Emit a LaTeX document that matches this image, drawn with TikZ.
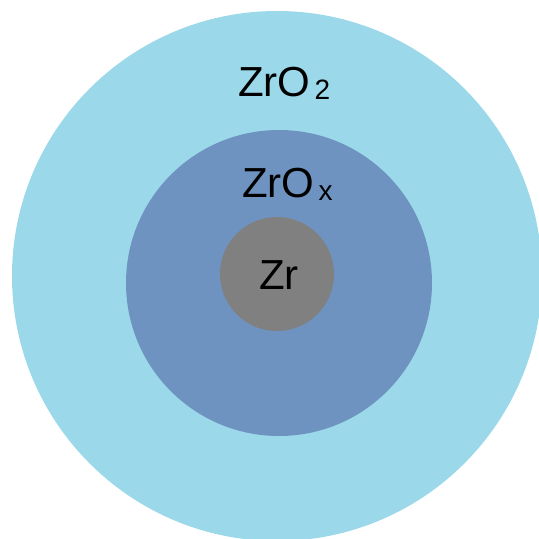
\documentclass[tikz,border=0pt]{standalone}
\usepackage{fontspec}
\setmainfont{Liberation Sans}
\usepackage{tikz}
\usetikzlibrary{positioning}
\definecolor{oxideblue}{HTML}{9BD9EA}
\definecolor{suboxblue}{HTML}{6F93C0}
\definecolor{metalgray}{HTML}{808080}
\newcommand{\lowidx}[1]{\hspace{4pt}\raisebox{-3pt}{\fontsize{28}{32}\selectfont #1}}

\begin{document}
\begin{tikzpicture}[
    x=1pt, y=-1pt,
    layer/.style={circle, draw=none, inner sep=0pt},
    label/.style={font=\fontsize{42}{50}\selectfont, text=black, inner sep=0pt, anchor=base west}
]
\useasboundingbox (0,0) rectangle (539,539);
\node[layer, fill=oxideblue, minimum size=530pt] (outer) at (277,276) {};
\node[layer, fill=suboxblue, minimum size=306pt] (middle) at (279,283) {};
\node[layer, fill=metalgray, minimum size=114pt] (core) at (277,274) {};
\node[label] (zro2) at (238,96) {ZrO\lowidx{2}};
\node[label] (zrox) at (242,197) {ZrO\lowidx{x}};
\node[label] (zr) at (259,289) {Zr};
\end{tikzpicture}
\end{document}
